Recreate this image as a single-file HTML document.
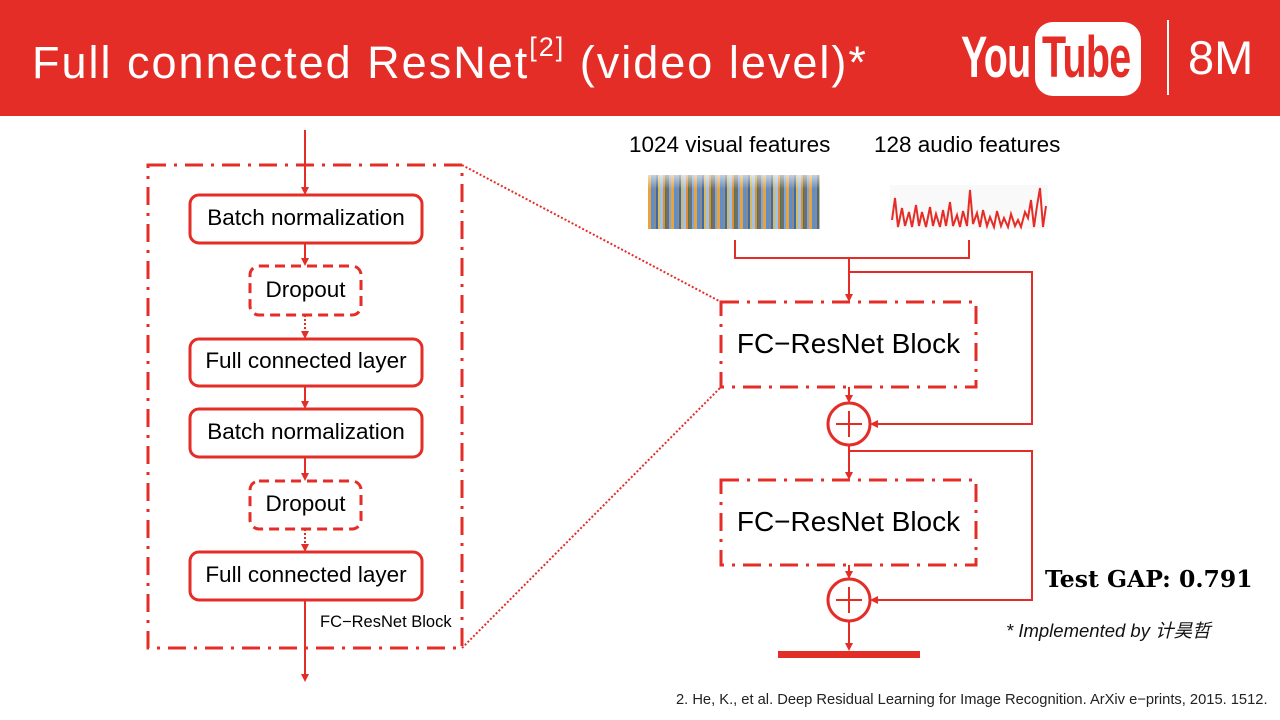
<!DOCTYPE html>
<html><head><meta charset="utf-8"><style>
body{margin:0;width:1280px;height:720px;overflow:hidden;background:#fff;font-family:"Liberation Sans","Noto Sans CJK SC",sans-serif;position:relative}
.hdr{position:absolute;left:0;top:0;width:1280px;height:116px;background:#e52d27}
.t{position:absolute;white-space:nowrap}
.vis{position:absolute;left:648px;top:175px;width:172px;height:54px;
background:repeating-linear-gradient(90deg,#e9a33a 0 3px,#5b8fcf 3px 6px,#8a8a8a 6px 8px,#3d6aa8 8px 10px,#d9b95a 10px 12px,#9fc3e8 12px 15px,#e58a3a 15px 17px,#4f7f3f 17px 18px,#6f6f6f 18px 21px,#7aa7e0 21px 23px);}
.vis:after{content:"";position:absolute;left:0;top:0;right:0;height:14px;background:linear-gradient(180deg,rgba(255,255,255,.6),rgba(255,255,255,0))}
</style></head><body>
<div class="hdr"></div>
<div class="t" style="left:32px;top:32px;font-size:45px;color:#fff;letter-spacing:2px">Full connected ResNet<sup style="font-size:27px;vertical-align:22px">[2]</sup> (video level)*</div>
<div class="t" style="left:961px;top:24px;font-size:58px;font-weight:bold;color:#fff;transform:scaleX(0.68);transform-origin:left;letter-spacing:-1px">You</div>
<div style="position:absolute;left:1035px;top:22px;width:106px;height:74px;background:#fff;border-radius:18px"></div>
<div class="t" style="left:1042px;top:24px;font-size:58px;font-weight:bold;color:#e52d27;transform:scaleX(0.68);transform-origin:left;letter-spacing:-1px">Tube</div>
<div style="position:absolute;left:1167px;top:20px;width:2px;height:75px;background:#fff"></div>
<div class="t" style="left:1188px;top:30px;font-size:47px;color:#fff">8M</div>

<div class="t" style="left:629px;top:132px;font-size:22.5px;color:#000">1024 visual features</div>
<div class="t" style="left:874px;top:132px;font-size:22.5px;color:#000">128 audio features</div>
<div class="vis"></div>

<svg width="1280" height="720" style="position:absolute;left:0;top:0">
<defs><marker id="a" markerWidth="8" markerHeight="8" refX="6" refY="4" orient="auto" markerUnits="userSpaceOnUse"><path d="M0,0 L8,4 L0,8 z" fill="#e52d27"/></marker></defs>
<rect x="890" y="185" width="158" height="44" fill="#f9f9f9"/>
<polyline fill="none" stroke="#e52d27" stroke-width="2" points="892,220 895,198 898,227 902,208 905,226 909,212 912,227 916,205 919,226 922,212 926,227 930,207 933,226 936,214 940,227 943,210 946,226 950,202 953,226 957,215 960,227 963,211 967,226 970,190 973,224 977,213 980,227 983,210 987,226 990,217 994,227 997,211 1001,226 1004,218 1008,227 1011,214 1015,226 1018,220 1021,227 1025,212 1028,218 1031,200 1034,227 1037,206 1040,188 1043,227 1046,206"/>
<g stroke="#e52d27" stroke-width="3" fill="none">
<rect x="148" y="165" width="314" height="483" stroke-dasharray="18,8,3,8"/>
<rect x="190" y="195" width="232" height="48" rx="9" fill="#fff"/>
<rect x="250" y="266" width="111" height="49" rx="9" stroke-dasharray="10,6" fill="#fff"/>
<rect x="190" y="339" width="232" height="47" rx="9" fill="#fff"/>
<rect x="190" y="409" width="232" height="48" rx="9" fill="#fff"/>
<rect x="250" y="481" width="111" height="48" rx="9" stroke-dasharray="10,6" fill="#fff"/>
<rect x="190" y="552" width="232" height="48" rx="9" fill="#fff"/>
<rect x="721" y="302" width="255" height="85" stroke-dasharray="18,8,3,8"/>
<rect x="721" y="480" width="255" height="85" stroke-dasharray="18,8,3,8"/>
<circle cx="849" cy="424" r="21"/>
<circle cx="849" cy="600" r="21"/>
</g>
<g stroke="#e52d27" stroke-width="2" fill="none">
<line x1="305" y1="130" x2="305" y2="193" marker-end="url(#a)"/>
<line x1="305" y1="243" x2="305" y2="264" marker-end="url(#a)"/>
<line x1="305" y1="315" x2="305" y2="337" stroke-dasharray="2,2" marker-end="url(#a)"/>
<line x1="305" y1="386" x2="305" y2="407" marker-end="url(#a)"/>
<line x1="305" y1="457" x2="305" y2="479" marker-end="url(#a)"/>
<line x1="305" y1="529" x2="305" y2="550" stroke-dasharray="2,2" marker-end="url(#a)"/>
<line x1="305" y1="600" x2="305" y2="680" marker-end="url(#a)"/>
<line x1="462" y1="165" x2="721" y2="302" stroke-dasharray="2,2"/>
<line x1="462" y1="648" x2="721" y2="387" stroke-dasharray="2,2"/>
<polyline points="735,240 735,258 969,258 969,240"/>
<line x1="849" y1="258" x2="849" y2="300" marker-end="url(#a)"/>
<polyline points="849,272 1032,272 1032,424 872,424" marker-end="url(#a)"/>
<line x1="849" y1="387" x2="849" y2="401" marker-end="url(#a)"/>
<line x1="849" y1="445" x2="849" y2="478" marker-end="url(#a)"/>
<polyline points="849,451 1032,451 1032,600 872,600" marker-end="url(#a)"/>
<line x1="849" y1="565" x2="849" y2="577" marker-end="url(#a)"/>
<line x1="849" y1="621" x2="849" y2="649" marker-end="url(#a)"/>
<line x1="836" y1="424" x2="862" y2="424"/><line x1="849" y1="411" x2="849" y2="437"/>
<line x1="836" y1="600" x2="862" y2="600"/><line x1="849" y1="587" x2="849" y2="613"/>
</g>
<rect x="778" y="651" width="142" height="7" fill="#e52d27"/>
</svg>

<div class="t" style="left:190px;top:205px;width:232px;text-align:center;font-size:22.5px">Batch normalization</div>
<div class="t" style="left:250px;top:277px;width:111px;text-align:center;font-size:22.5px">Dropout</div>
<div class="t" style="left:190px;top:348px;width:232px;text-align:center;font-size:22.5px">Full connected layer</div>
<div class="t" style="left:190px;top:419px;width:232px;text-align:center;font-size:22.5px">Batch normalization</div>
<div class="t" style="left:250px;top:491px;width:111px;text-align:center;font-size:22.5px">Dropout</div>
<div class="t" style="left:190px;top:562px;width:232px;text-align:center;font-size:22.5px">Full connected layer</div>
<div class="t" style="left:320px;top:613px;font-size:16.5px">FC−ResNet Block</div>
<div class="t" style="left:721px;top:328px;width:255px;text-align:center;font-size:28px">FC−ResNet Block</div>
<div class="t" style="left:721px;top:506px;width:255px;text-align:center;font-size:28px">FC−ResNet Block</div>
<div class="t" style="left:1045px;top:565px;font-size:23.5px;font-weight:900;font-family:'DejaVu Serif','Liberation Serif',serif">Test GAP: 0.791</div>
<div class="t" style="left:1006px;top:617px;font-size:18.5px;font-style:italic;color:#111">* Implemented by 计昊哲</div>
<div class="t" style="left:676px;top:692px;font-size:14.7px;color:#222">2. He, K., et al. Deep Residual Learning for Image Recognition. ArXiv e−prints, 2015. 1512.</div>
</body></html>
